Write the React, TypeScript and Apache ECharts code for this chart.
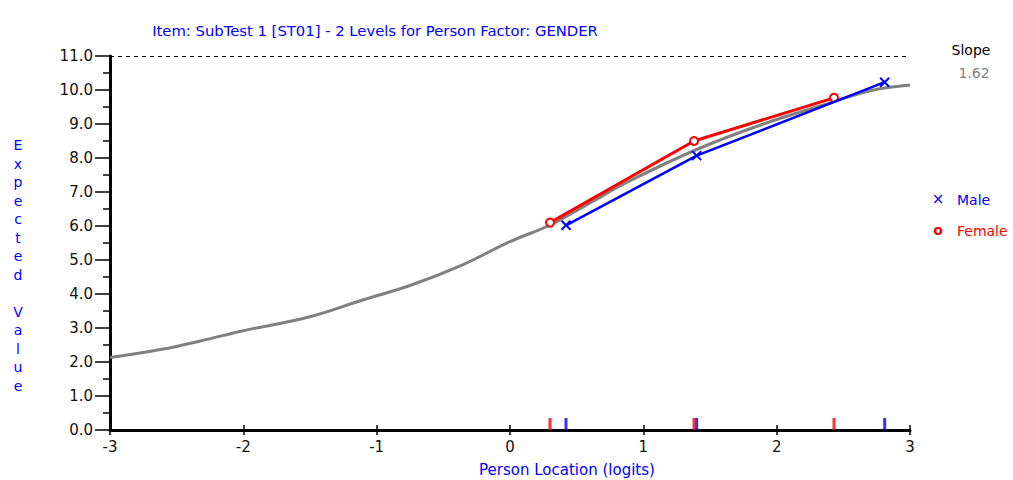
import React, { useEffect, useRef } from "react";
import * as echarts from "echarts";

const curveX = [-3, -2.6, -2.3, -2, -1.5, -1.1, -0.75, -0.36, 0, 0.3, 0.6, 0.9, 1.4, 1.9, 2.4, 2.7, 3];
const curveY = [2.13, 2.38, 2.64, 2.92, 3.33, 3.83, 4.25, 4.85, 5.54, 6.03, 6.68, 7.33, 8.25, 9.0, 9.62, 9.98, 10.15];

const maleX = [0.42, 1.4, 2.81];
const maleY = [6.02, 8.07, 10.23];
const femaleX = [0.3, 1.38, 2.43];
const femaleY = [6.1, 8.5, 9.77];

const xTicks = [-3, -2, -1, 0, 1, 2, 3];
const yMax = 11;
const slopeValue = "1.62";
const titleText = "Item: SubTest 1 [ST01] - 2 Levels for Person Factor: GENDER";

const FONT = "'DejaVu Sans', Verdana, sans-serif";

export default function App() {
  const ref = useRef<HTMLDivElement>(null);
  useEffect(() => {
    if (!ref.current) return;
    const chart = echarts.init(ref.current, undefined, { renderer: "svg" });
    const zip = (xs: number[], ys: number[]) => xs.map((x, i) => [x, ys[i]]);
    const xBase = {
      type: "value" as const,
      min: xTicks[0],
      max: xTicks[xTicks.length - 1],
      interval: 1,
      splitLine: { show: false },
    };
    chart.setOption({
      animation: false,
      textStyle: { fontFamily: FONT },
      grid: { left: 110, right: 103, top: 56, bottom: 50, containLabel: false },
      title: {
        text: titleText,
        left: 370,
        top: 18,
        textAlign: "center",
        textStyle: { color: "#0000ff", fontSize: 14.8, fontWeight: "normal", fontFamily: FONT },
      },
      xAxis: [
        {
          ...xBase,
          position: "bottom",
          axisLine: { show: true, onZero: false, lineStyle: { color: "#000", width: 3 } },
          axisTick: { show: true, inside: false, length: 5, lineStyle: { color: "#000", width: 1.5 } },
          axisLabel: { show: true, color: "#111", fontSize: 15, margin: 9, fontFamily: FONT },
        },
        {
          ...xBase,
          position: "bottom",
          axisLine: { show: false },
          axisTick: { show: true, inside: true, length: 5, lineStyle: { color: "#000", width: 1.5 } },
          axisLabel: { show: false },
        },
      ],
      yAxis: {
        type: "value",
        min: 0,
        max: yMax,
        interval: 1,
        splitLine: { show: false },
        axisLine: { show: true, onZero: false, lineStyle: { color: "#000", width: 3 } },
        axisTick: { show: true, length: 15, lineStyle: { color: "#000", width: 1.5 } },
        minorTick: { show: true, splitNumber: 2, length: 7, lineStyle: { color: "#000", width: 1.5 } },
        axisLabel: {
          color: "#111",
          fontSize: 15,
          margin: 17,
          fontFamily: FONT,
          formatter: (v: number) => v.toFixed(1),
        },
      },
      graphic: [
        {
          type: "text",
          x: 18,
          y: 136,
          style: {
            text: "E\nx\np\ne\nc\nt\ne\nd\n \nV\na\nl\nu\ne",
            fill: "#0000ff",
            font: `14px ${FONT}`,
            lineHeight: 18.5,
            align: "center",
            verticalAlign: "top",
          },
        },
        {
          type: "text",
          x: 567,
          y: 470,
          style: {
            text: "Person Location (logits)",
            fill: "#0000ff",
            font: `15px ${FONT}`,
            align: "center",
            verticalAlign: "middle",
          },
        },
        {
          type: "text",
          x: 971,
          y: 50,
          style: { text: "Slope", fill: "#000", font: `14px ${FONT}`, align: "center", verticalAlign: "middle" },
        },
        {
          type: "text",
          x: 974,
          y: 73,
          style: { text: slopeValue, fill: "#808080", font: `14px ${FONT}`, align: "center", verticalAlign: "middle" },
        },
        {
          type: "text",
          x: 938,
          y: 199,
          style: { text: "×", fill: "#0000ff", font: `15px ${FONT}`, align: "center", verticalAlign: "middle" },
        },
        {
          type: "text",
          x: 957,
          y: 200,
          style: { text: "Male", fill: "#0000ff", font: `14px ${FONT}`, align: "left", verticalAlign: "middle" },
        },
        {
          type: "text",
          x: 938,
          y: 230,
          style: { text: "o", fill: "#ff0000", font: `bold 14px ${FONT}`, align: "center", verticalAlign: "middle" },
        },
        {
          type: "text",
          x: 957,
          y: 231,
          style: { text: "Female", fill: "#ff0000", font: `14px ${FONT}`, align: "left", verticalAlign: "middle" },
        },
      ],
      series: [
        {
          type: "line",
          name: "Expected",
          data: zip(curveX, curveY),
          smooth: 0.4,
          symbol: "none",
          lineStyle: { color: "#808080", width: 3 },
          z: 2,
          markLine: {
            silent: true,
            symbol: "none",
            label: { show: false },
            lineStyle: { color: "#000", width: 1, type: [4, 4] },
            data: [{ yAxis: yMax }],
          },
        },
        {
          type: "line",
          name: "Female",
          data: zip(femaleX, femaleY),
          symbol: "emptyCircle",
          symbolSize: 8,
          showAllSymbol: true,
          itemStyle: { color: "#ff0000", borderColor: "#ff0000", borderWidth: 2 },
          lineStyle: { color: "#ff0000", width: 3 },
          z: 3,
        },
        {
          type: "line",
          name: "Male",
          data: zip(maleX, maleY),
          symbol: "path://M0,0L10,10M10,0L0,10",
          symbolSize: 9,
          showAllSymbol: true,
          itemStyle: { color: "#0000ff", borderColor: "#0000ff", borderWidth: 2 },
          lineStyle: { color: "#0000ff", width: 2.5 },
          z: 4,
        },
        {
          type: "scatter",
          name: "FemaleRug",
          data: femaleX.map((x) => [x, 0]),
          symbol: "rect",
          symbolSize: [3, 12],
          symbolOffset: [0, -6],
          clip: false,
          itemStyle: { color: "#ff0000" },
          z: 5,
        },
        {
          type: "scatter",
          name: "MaleRug",
          data: maleX.map((x) => [x, 0]),
          symbol: "rect",
          symbolSize: [3, 12],
          symbolOffset: [0, -6],
          clip: false,
          itemStyle: { color: "#0000ff" },
          z: 5,
        },
      ],
    });
    return () => chart.dispose();
  }, []);
  return <div ref={ref} style={{ width: 1013, height: 480, position: "absolute", left: 0, top: 0 }} />;
}
